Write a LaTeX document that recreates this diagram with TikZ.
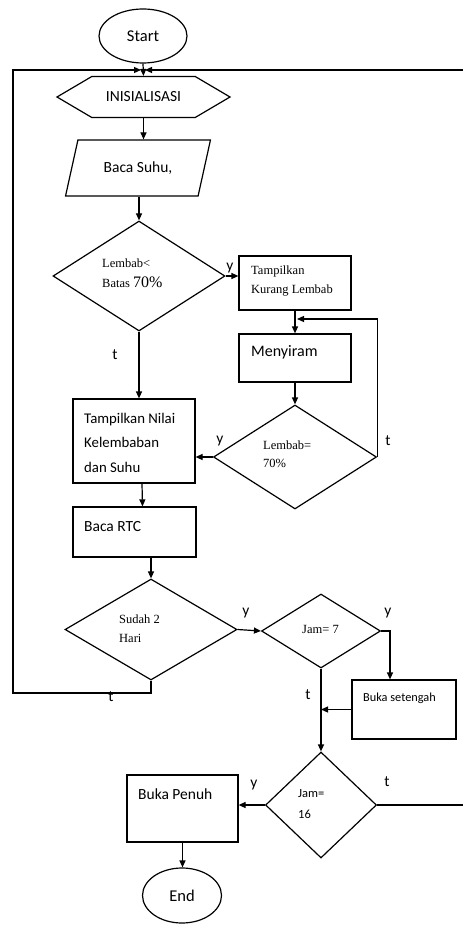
\documentclass[tikz,border=0pt]{standalone}
\usepackage{fontspec}
\setmainfont{Carlito}
\newfontfamily\timesfont{Liberation Serif}
\usetikzlibrary{shapes.geometric,shapes.symbols,arrows.meta}

\begin{document}
\begin{tikzpicture}[x=1pt,y=-1pt,
  >={Triangle[length=7pt,width=6pt]},
  box/.style={draw, very thick, rectangle, inner sep=0pt},
  dec/.style={draw, very thick, diamond, inner sep=0pt},
  term/.style={draw, very thick, ellipse, inner sep=0pt, font=\fontsize{16.5}{20}\selectfont},
  txt/.style={anchor=west, align=left, inner sep=0pt, font=\fontsize{15.5}{24.5}\selectfont},
  stxt/.style={anchor=west, align=left, inner sep=0pt, font=\fontsize{12.5}{19}\timesfont},
  lbl/.style={inner sep=0pt, font=\fontsize{15.5}{18}\selectfont}]
\useasboundingbox (0,0) rectangle (463,925);

%\draw[help lines] (0,0) grid[step=50] (463,925);
\coordinate (topjoin) at (143,70);
\coordinate (exittop) at (463,70);
\coordinate (looptl) at (13,70);
\coordinate (loopbl) at (13,693);
\coordinate (loopjoin) at (295,319);
\coordinate (exit16) at (463,805);

% main column
\node[term, minimum width=88pt, minimum height=54pt] (start) at (143,36) {Start};
\node[draw, very thick, signal, signal to=west and east, signal pointer angle=61,
  minimum width=173pt, minimum height=41pt, inner sep=0pt,
  font=\fontsize{15.5}{18}\selectfont] (inis) at (143.5,97) {INISIALISASI};
\node[draw, very thick, trapezium, trapezium left angle=61, trapezium right angle=119,
  trapezium stretches=true, minimum width=146pt, minimum height=56pt, inner sep=0pt,
  font=\fontsize{15.5}{18}\selectfont] (baca) at (138,168) {Baca Suhu,};
\node[dec, minimum width=172pt, minimum height=110pt] (lembab1) at (139,276) {};
\node[stxt, font=\fontsize{12.5}{20}\timesfont] (lembab1txt) at (102,273)
  {Lembab<\\Batas {\fontsize{16}{20}\selectfont 70\%}};

\node[box, minimum width=122pt, minimum height=84pt] (tampil) at (134,441) {};
\node[txt, font=\fontsize{14.8}{24.5}\selectfont] (tampiltxt) at (84,442.5) {Tampilkan Nilai\\Kelembaban\\dan Suhu};
\node[box, minimum width=123pt, minimum height=50pt] (rtc) at (134.5,532) {};
\node[txt] (rtctxt) at (84,527) {Baca RTC};
\node[dec, minimum width=172pt, minimum height=101pt] (sudah) at (151,629.5) {};
\node[stxt] (sudahtxt) at (119,628.5) {Sudah 2\\Hari};

% right column
\node[box, minimum width=112pt, minimum height=54pt] (kurang) at (295,283) {};
\node[stxt] (kurangtxt) at (251,281.5) {Tampilkan\\Kurang Lembab};
\node[box, minimum width=112pt, minimum height=48pt] (menyiram) at (295,358) {};
\node[txt, font=\fontsize{16}{20}\selectfont] (menyiramtxt) at (251,352) {Menyiram};
\node[dec, minimum width=163pt, minimum height=104pt] (lembab2) at (295,457) {};
\node[stxt, font=\fontsize{12.5}{18}\timesfont] (lembab2txt) at (263,454) {Lembab=\\70\%};

% jam
\node[dec, minimum width=119pt, minimum height=74pt] (jam7) at (321,631) {};
\node[stxt] (jam7txt) at (302,629) {Jam= 7};
\node[box, minimum width=104pt, minimum height=59pt] (setengah) at (404,709.5) {};
\node[txt, font=\fontsize{12.3}{15}\selectfont] (setengahtxt) at (363,698) {Buka setengah};
\node[dec, minimum width=111pt, minimum height=106pt] (jam16) at (321,805) {};
\node[txt, font=\fontsize{12.5}{21}\selectfont] (jam16txt) at (298,804.5) {Jam=\\16};
\node[box, minimum width=111pt, minimum height=67pt] (penuh) at (182.5,808.5) {};
\node[txt] (penuhtxt) at (138,794) {Buka Penuh};
\node[term, minimum width=79pt, minimum height=55pt] (end) at (182,895.5) {End};

% labels
\node[lbl] (ylembab1) at (230,268) {y};
\node[lbl] (tlembab1) at (115,355) {t};
\node[lbl] (ylembab2) at (220,441) {y};
\node[lbl] (tlembab2) at (388,441) {t};
\node[lbl] (ysudah) at (246,613) {y};
\node[lbl] (tsudah) at (111,697) {t};
\node[lbl] (yjam7) at (388,613) {y};
\node[lbl] (tjam7) at (308,695) {t};
\node[lbl] (yjam16) at (254,785) {y};
\node[lbl] (tjam16) at (387,782) {t};

% connectors
\draw[very thick, ->] (start.south) -- (inis.north);
\draw[very thick, ->] (inis.south) -- (inis.south |- baca.north);
\draw[very thick, ->] (lembab1.north |- baca.south) -- (lembab1.north);
\draw[very thick, ->] (lembab1.east) -- (lembab1.east -| kurang.west);
\draw[very thick, ->] (lembab1.south) -- (lembab1.south |- tampil.north);
\draw[very thick, ->] (kurang.south) -- (menyiram.north);
\draw[very thick, ->] (menyiram.south) -- (lembab2.north);
\draw[very thick, ->] (lembab2.east) |- ([xshift=2pt]loopjoin);
\draw[very thick, ->] (lembab2.west) -- (lembab2.west -| tampil.east);
\draw[very thick, ->] ([xshift=8pt]tampil.south) -- ([xshift=8pt]rtc.north);
\draw[very thick, ->] (rtc.south -| sudah.north) -- (sudah.north);
\draw[very thick, ->] (sudah.east) -- (jam7.west);
\draw[very thick, ->] (sudah.south) |- (loopbl) -- (looptl) -- ([xshift=-2pt]topjoin);
\draw[very thick, ->] (exittop) -- ([xshift=2pt]topjoin);
\draw[very thick, ->] (jam7.east) -| ([xshift=-14pt]setengah.north);
\draw[very thick, ->] (jam7.south) -- (jam16.north);
\draw[very thick, ->] (setengah.west) -- (setengah.west -| jam7.south);
\draw[very thick, ->] (jam16.west) -- (jam16.west -| penuh.east);
\draw[very thick] (jam16.east) -- (exit16);
\draw[very thick, ->] (penuh.south) -- (penuh.south |- end.north);

\end{tikzpicture}
\end{document}
